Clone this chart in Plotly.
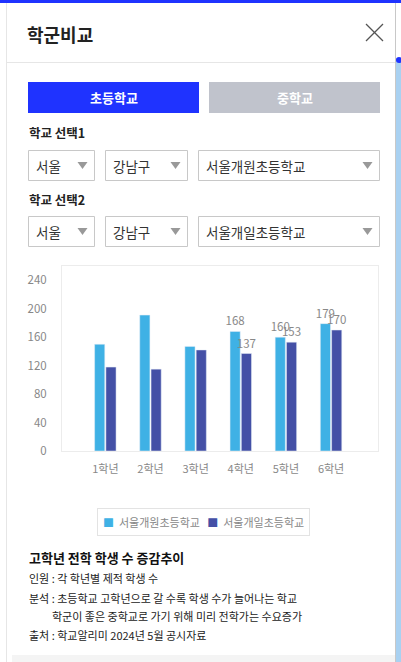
import plotly.graph_objects as go

W, H = 401, 662

grades = ["1학년", "2학년", "3학년", "4학년", "5학년", "6학년"]
school1_name = "서울개원초등학교"
school2_name = "서울개일초등학교"
school1_vals = [150, 191, 147, 168, 160, 179]
school2_vals = [118, 115, 142, 137, 153, 170]
labeled_from = 3  # only grades 4-6 show value labels
y_ticks = [0, 40, 80, 120, 160, 200, 240]

FONT = "Malgun Gothic, Noto Sans CJK KR, sans-serif"
C1 = "#3fb1e5"
C2 = "#4450a6"
BLUE = "#1f33ff"


def px(x):
    return x / W


def py(y):
    return 1 - y / H


def lbl(vals):
    return [str(v) if i >= labeled_from else "" for i, v in enumerate(vals)]


fig = go.Figure()
for name, vals, col in [(school1_name, school1_vals, C1), (school2_name, school2_vals, C2)]:
    fig.add_trace(go.Bar(x=list(range(len(grades))), y=vals, name=name,
                         marker_color=col, text=lbl(vals), textposition="outside",
                         textfont=dict(color="#888", size=11.5, family=FONT), cliponaxis=False,
                         constraintext="none", hoverinfo="skip", showlegend=False))

shapes = []
ann = []


def rect(x0, y0, x1, y1, fill=None, line=None, lw=1):
    shapes.append(dict(type="rect", xref="paper", yref="paper",
                       x0=px(x0), x1=px(x1), y0=py(y1), y1=py(y0),
                       fillcolor=fill if fill else "rgba(0,0,0,0)",
                       line=dict(color=line if line else "rgba(0,0,0,0)", width=lw if line else 0),
                       layer="below"))


def line(x0, y0, x1, y1, color, lw=1):
    shapes.append(dict(type="line", xref="paper", yref="paper",
                       x0=px(x0), x1=px(x1), y0=py(y0), y1=py(y1),
                       line=dict(color=color, width=lw)))


def text(x, y, s, size=13, color="#222", bold=False, xanchor="left", **kw):
    if bold:
        s = "<b>" + s + "</b>"
    d = dict(xref="paper", yref="paper", x=px(x), y=py(y), text=s, showarrow=False,
             xanchor=xanchor, yanchor="middle",
             font=dict(size=size, color=color, family=FONT))
    d.update(kw)
    ann.append(d)


def tri(cx, cy):
    shapes.append(dict(type="path", xref="paper", yref="paper",
                       path=f"M {px(cx-5)} {py(cy-3)} L {px(cx+5)} {py(cy-3)} L {px(cx)} {py(cy+4)} Z",
                       fillcolor="#999", line=dict(width=0)))


# frame
rect(0, 0, W, 3, fill=BLUE)
line(6.5, 3, 6.5, H, "#e6e6e6")
line(395.5, 3, 395.5, H, "#c8c8c8")
rect(396, 58, 401, H, fill="#a9d1f1")
shapes.append(dict(type="circle", xref="paper", yref="paper",
                   x0=px(396), x1=px(402), y0=py(63), y1=py(57), fillcolor=BLUE,
                   line=dict(width=0)))
line(6, 62.5, 395, 62.5, "#e6e6e6")
rect(12, 655, 395, H, fill="#f4f4f4")

# header
text(25, 34, "학군비교", size=18, color="#222", bold=True)
line(366, 24, 383, 41, "#555", 1.2)
line(383, 24, 366, 41, "#555", 1.2)

# tabs
rect(28, 82, 199, 113, fill=BLUE)
rect(209, 82, 380, 113, fill="#c0c3cc")
text(113.5, 98, "초등학교", size=13, color="#fff", bold=True, xanchor="center")
text(294.5, 98, "중학교", size=13, color="#fff", bold=True, xanchor="center")

# selects
rows = [(133, 150, school1_name, "학교 선택1"), (200, 216, school2_name, "학교 선택2")]
for ly, by, sname, label in rows:
    text(27, ly, label, size=12.5, color="#222", bold=True)
    for (x0, x1, t) in [(28.5, 94.5, "서울"), (105.5, 187.5, "강남구"), (198.5, 379.5, sname)]:
        rect(x0, by + 0.5, x1, by + 30.5, fill="#fff", line="#c8c8c8")
        text(x0 + 5, by + 16, t, size=13.5, color="#333")
        tri(x1 - 12, by + 15)

# legend (compact, matching the reference box)
legend_txt = (f'<span style="color:{C1}">■</span>  {school1_name}   '
              f'<span style="color:{C2}">■</span>  {school2_name}')
text(203.5, 521.5, legend_txt, size=11, color="#888", xanchor="center",
     bordercolor="#e3e3e3", borderwidth=1, borderpad=5, bgcolor="#fff")

# description
text(27, 557, "고학년 전학 학생 수 증감추이", size=13, color="#111", bold=True)
text(27, 578, "인원 : 각 학년별 제적 학생 수", size=11, color="#222")
text(27, 598, "분석 : 초등학교 고학년으로 갈 수록 학생 수가 늘어나는 학교", size=11, color="#222")
text(50, 616, "학군이 좋은 중학교로 가기 위해 미리 전학가는 수요증가", size=11, color="#222")
text(27, 635, "출처 : 학교알리미 2024년 5월 공시자료", size=11, color="#222")

fig.update_layout(
    width=W, height=H, margin=dict(l=0, r=0, t=0, b=0), autosize=False,
    paper_bgcolor="#fff", plot_bgcolor="#fff",
    barmode="group", bargap=0.5, bargroupgap=0.1,
    shapes=shapes, annotations=ann,
    font=dict(family=FONT, color="#888", size=12),
    showlegend=False,
    xaxis=dict(domain=[px(62), px(378)], range=[-0.96, 6.04], tickmode="array",
               tickvals=list(range(len(grades))), ticktext=grades, showgrid=False,
               zeroline=False, showline=True, mirror=True, linecolor="#ececec",
               ticks="", tickfont=dict(size=11, color="#888"), ticklabelstandoff=8,
               automargin=False),
    yaxis=dict(domain=[py(451), py(266)], range=[0, 260], tickvals=y_ticks, showgrid=False,
               zeroline=False, showline=True, mirror=True, linecolor="#ececec",
               ticks="", tickfont=dict(size=11.5, color="#888"), ticklabelstandoff=12,
               automargin=False),
)

fig.write_html("out.html")
